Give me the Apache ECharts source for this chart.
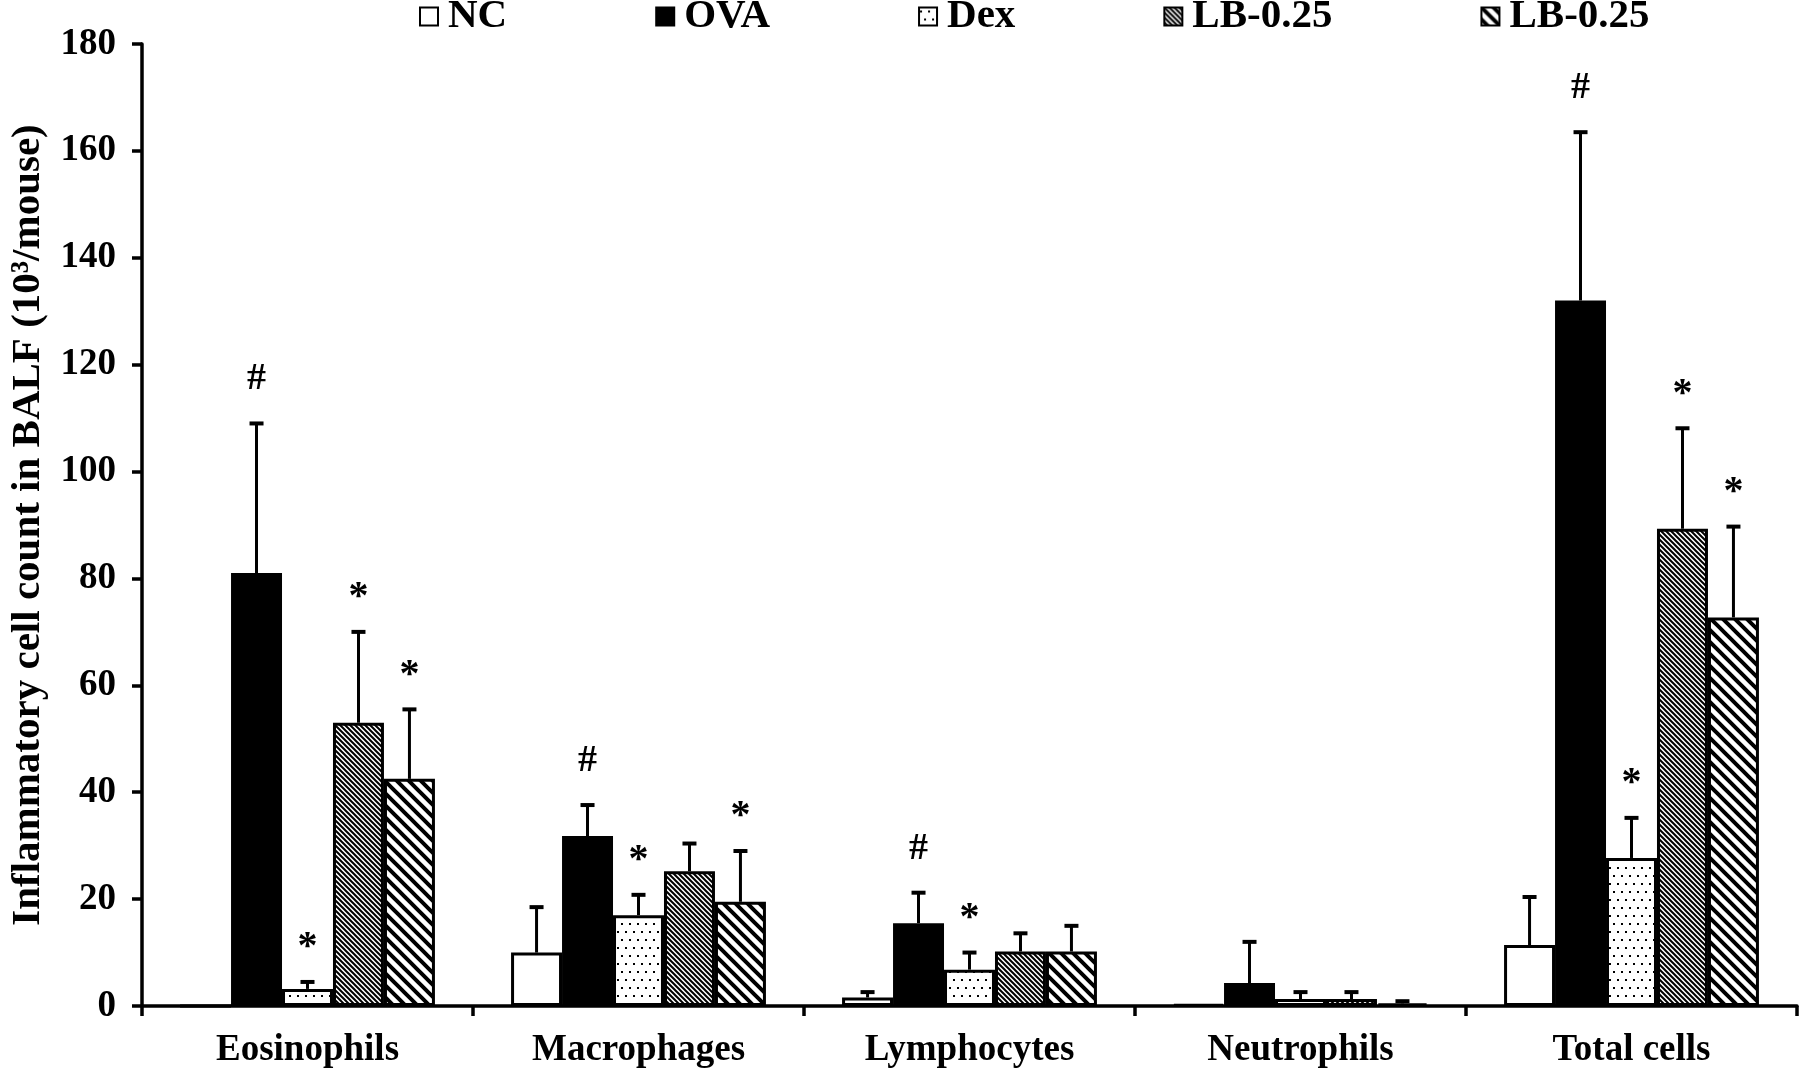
<!DOCTYPE HTML>
<html lang="en">
  <head>
    <meta charset="utf-8" />
    <script src="https://cdn.jsdelivr.net/npm/echarts@6.0.0/dist/echarts.min.js"></script>
    <style>
      html, body {
        height: 100%;
        padding: 0;
        margin: 0;
        background: #fff;
      }
      #chart {
        width: 1800px;
        height: 1072px;
      }
    </style>
  </head>
  <body>
    <div id="chart"></div>
    <script>
      // data (10^3 cells / mouse), error = upper error bar length
      var categories = ['Eosinophils', 'Macrophages', 'Lymphocytes', 'Neutrophils', 'Total cells'];
      var groupNames = ['NC', 'OVA', 'Dex', 'LB-0.25', 'LB-0.25'];

      var ncMean = [0, 10, 1.6, 0.3, 11.4];
      var ncErr = [0, 8.5, 1, 0, 9];
      var ovaMean = [81, 31.8, 15.5, 4.3, 132];
      var ovaErr = [28, 5.8, 5.7, 7.7, 31.5];
      var dexMean = [3.2, 17, 6.8, 1.3, 27.7];
      var dexErr = [1.3, 3.8, 3.2, 1.3, 7.5];
      var lbaMean = [53, 25.2, 10.2, 1.3, 89.3];
      var lbaErr = [17, 5.2, 3.4, 1.3, 18.8];
      var lbbMean = [42.5, 19.5, 10.2, 0.5, 72.7];
      var lbbErr = [13, 9.5, 4.8, 0.4, 17];

      // significance marks above the error bars
      var ncMarks = ['', '', '', '', ''];
      var ovaMarks = ['#', '#', '#', '', '#'];
      var dexMarks = ['*', '*', '*', '', '*'];
      var lbaMarks = ['*', '', '', '', '*'];
      var lbbMarks = ['*', '*', '', '', '*'];

      var means = [ncMean, ovaMean, dexMean, lbaMean, lbbMean];
      var errs = [ncErr, ovaErr, dexErr, lbaErr, lbbErr];
      var marks = [ncMarks, ovaMarks, dexMarks, lbaMarks, lbbMarks];

      var FONT = "'Times New Roman', 'Liberation Serif', serif";
      var GAP = 0.23;
      var N = 5;

      // fill patterns
      function makeTile(w, h, draw) {
        var c = document.createElement('canvas');
        c.width = w;
        c.height = h;
        var ctx = c.getContext('2d');
        ctx.fillStyle = '#fff';
        ctx.fillRect(0, 0, w, h);
        draw(ctx, w, h);
        return { image: c, repeat: 'repeat' };
      }
      function stripes(s, lw) {
        return makeTile(s, s, function (ctx) {
          ctx.strokeStyle = '#000';
          ctx.lineWidth = lw;
          ctx.beginPath();
          for (var k = -1; k <= 1; k++) {
            ctx.moveTo(k * s - 2, -2);
            ctx.lineTo(k * s + s + 2, s + 2);
          }
          ctx.stroke();
        });
      }
      var dots = makeTile(8, 16, function (ctx) {
        ctx.fillStyle = '#000';
        ctx.fillRect(1, 3, 2, 2);
        ctx.fillRect(5, 11, 2, 2);
      });
      var fills = ['#fff', '#000', dots, stripes(5, 2), stripes(12, 4)];

      var seriesNames = groupNames.map(function (n, i) {
        return i === 4 ? n + ' ' : n;
      });

      function errRenderer(si) {
        return function (params, api) {
          var cat = api.value(0);
          var mean = api.value(1);
          var err = api.value(2);
          var band = api.size([1, 0])[0];
          var total = band * (1 - GAP);
          var bw = total / N;
          var base = api.coord([cat, 0]);
          var cx = base[0] - total / 2 + bw * (si + 0.5);
          var yMean = api.coord([cat, mean])[1];
          var yTop = api.coord([cat, mean + err])[1];
          var children = [];
          if (err > 0) {
            children.push({ type: 'line', shape: { x1: cx, y1: yMean, x2: cx, y2: yTop },
              style: { stroke: '#000', lineWidth: 3 } });
            children.push({ type: 'line', shape: { x1: cx - 7, y1: yTop, x2: cx + 7, y2: yTop },
              style: { stroke: '#000', lineWidth: 4 } });
          }
          var m = marks[si][params.dataIndex];
          if (m) {
            children.push({ type: 'text', style: {
              text: m, x: cx, y: yTop - (m === '*' ? 34 : 44),
              align: 'center', verticalAlign: 'middle',
              fontSize: m === '*' ? 40 : 38, fontWeight: 'bold', fontFamily: FONT, fill: '#000' } });
          }
          return { type: 'group', children: children };
        };
      }

      var series = [];
      means.forEach(function (arr, i) {
        series.push({
          name: seriesNames[i],
          type: 'bar',
          data: arr,
          barGap: 0,
          barCategoryGap: (GAP * 100) + '%',
          itemStyle: { color: fills[i], borderColor: '#000', borderWidth: 3 },
          emphasis: { disabled: true },
          animation: false
        });
      });
      means.forEach(function (arr, i) {
        series.push({
          type: 'custom',
          renderItem: errRenderer(i),
          data: arr.map(function (v, k) { return [k, v, errs[i][k]]; }),
          encode: { x: 0, y: 1 },
          z: 5,
          silent: true,
          animation: false
        });
      });

      var myChart = echarts.init(document.getElementById('chart'));
      var option = {
        backgroundColor: '#fff',
        animation: false,
        legend: {
          data: seriesNames,
          top: -4,
          left: 419,
          padding: 0,
          itemGap: 148,
          itemWidth: 18,
          itemHeight: 18,
          icon: 'rect',
          itemStyle: { borderColor: '#000', borderWidth: 2 },
          selectedMode: false,
          textStyle: { fontFamily: FONT, fontWeight: 'bold', fontSize: 41, color: '#000', padding: [0, 0, 0, 5] }
        },
        grid: { left: 126, right: 3, top: 44, bottom: 66, containLabel: false },
        xAxis: {
          type: 'category',
          data: categories,
          axisLine: { lineStyle: { color: '#000', width: 3.5 } },
          axisTick: { show: true, length: 10, lineStyle: { color: '#000', width: 3.5 } },
          axisLabel: { margin: 26, color: '#000', fontFamily: FONT, fontWeight: 'bold', fontSize: 37 }
        },
        yAxis: {
          type: 'value',
          min: 0,
          max: 180,
          interval: 20,
          name: 'Inflammatory cell count in BALF (10\u00b3/mouse)',
          nameLocation: 'middle',
          nameGap: 93,
          nameTextStyle: { color: '#000', fontFamily: FONT, fontWeight: 'bold', fontSize: 41 },
          splitLine: { show: false },
          axisLine: { show: true, lineStyle: { color: '#000', width: 3.5 } },
          axisTick: { show: true, length: 10, lineStyle: { color: '#000', width: 3.5 } },
          axisLabel: { margin: 26, color: '#000', fontFamily: FONT, fontWeight: 'bold', fontSize: 37 }
        },
        series: series
      };
      myChart.setOption(option);
    </script>
  </body>
</html>
